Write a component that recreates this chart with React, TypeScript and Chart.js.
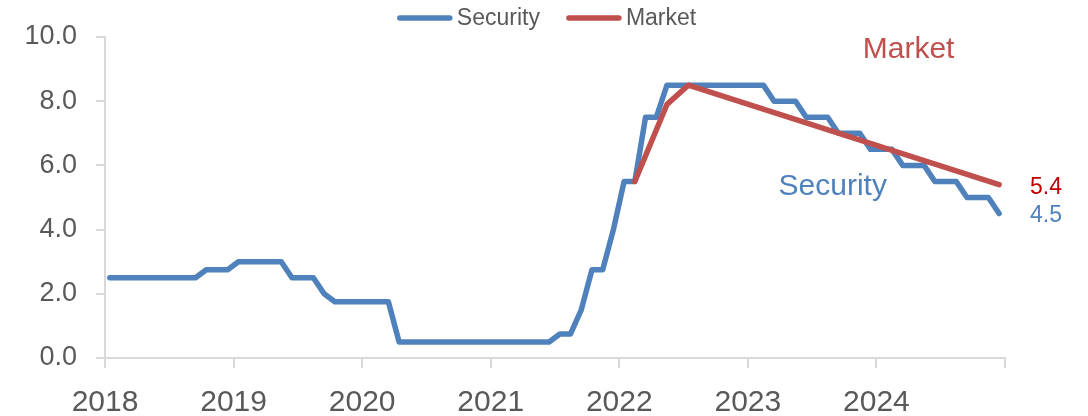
import { useEffect, useRef } from 'react';
import { Chart, registerables } from 'chart.js';

Chart.register(...registerables);

// Monthly policy-rate path, January 2018 through December 2024 (%)
const securityStart = '2018-01';
const securityRates = [
  // 2018
  2.5, 2.5, 2.5, 2.5, 2.5, 2.5, 2.5, 2.5, 2.5, 2.75, 2.75, 2.75,
  // 2019
  3.0, 3.0, 3.0, 3.0, 3.0, 2.5, 2.5, 2.5, 2.0, 1.75, 1.75, 1.75,
  // 2020
  1.75, 1.75, 1.75, 0.5, 0.5, 0.5, 0.5, 0.5, 0.5, 0.5, 0.5, 0.5,
  // 2021
  0.5, 0.5, 0.5, 0.5, 0.5, 0.5, 0.75, 0.75, 1.5, 2.75, 2.75, 4.0,
  // 2022
  5.5, 5.5, 7.5, 7.5, 8.5, 8.5, 8.5, 8.5, 8.5, 8.5, 8.5, 8.5,
  // 2023
  8.5, 8.5, 8.0, 8.0, 8.0, 7.5, 7.5, 7.5, 7.0, 7.0, 7.0, 6.5,
  // 2024
  6.5, 6.5, 6.0, 6.0, 6.0, 5.5, 5.5, 5.5, 5.0, 5.0, 5.0, 4.5,
];

// Market-implied path
const marketDates = ['2022-02', '2022-05', '2022-07', '2024-12'];
const marketRates = [5.5, 7.9, 8.5, 5.4];

// Axis ticks
const yearTicks = [2018, 2019, 2020, 2021, 2022, 2023, 2024, 2025];
const yearLabels = ['2018', '2019', '2020', '2021', '2022', '2023', '2024', ''];
const rateTicks = [0, 2, 4, 6, 8, 10];

// In-chart series names, placed in data coordinates (decimal year, rate)
const seriesNames = ['Security', 'Market'];
const namePositions = [
  { x: 2023.66, y: 5.37 },
  { x: 2024.25, y: 9.63 },
];

const BLUE = '#4F81BD';
const RED = '#C0504D';
const DARK_RED = '#C00000';
const TEXT = '#595959';
const AXIS = '#D9D9D9';
const FONT = '"Liberation Sans", Arial, sans-serif';

// Observations are dated mid-month
function toYear(ym: string, offsetMonths = 0): number {
  const [y, m] = ym.split('-').map(Number);
  return y + (m - 1 + offsetMonths + 0.45) / 12;
}

const securityPoints = securityRates.map((v, i) => ({ x: toYear(securityStart, i), y: v }));
const marketPoints = marketRates.map((v, i) => ({ x: toYear(marketDates[i]), y: v }));

const legendPlugin = {
  id: 'lineLegend',
  afterDraw(chart: any) {
    const ctx = chart.ctx as CanvasRenderingContext2D;
    const items = [
      { text: seriesNames[0], color: BLUE },
      { text: seriesNames[1], color: RED },
    ];
    const lineLen = 54;
    const gap = 5;
    const itemGap = 27;
    const y = 18;
    ctx.save();
    ctx.font = `23px ${FONT}`;
    const widths = items.map((it) => ctx.measureText(it.text).width);
    const total = items.reduce((s, _, i) => s + lineLen + gap + widths[i], 0) + itemGap;
    let x = 547 - total / 2;
    items.forEach((it, i) => {
      ctx.strokeStyle = it.color;
      ctx.lineWidth = 5.5;
      ctx.lineCap = 'round';
      ctx.beginPath();
      ctx.moveTo(x + 2, y);
      ctx.lineTo(x + lineLen - 2, y);
      ctx.stroke();
      x += lineLen + gap;
      ctx.fillStyle = TEXT;
      ctx.textAlign = 'left';
      ctx.textBaseline = 'middle';
      ctx.fillText(it.text, x, y + 1);
      x += widths[i] + itemGap;
    });
    ctx.restore();
  },
};

const labelPlugin = {
  id: 'seriesLabels',
  afterDatasetsDraw(chart: any) {
    const ctx = chart.ctx as CanvasRenderingContext2D;
    const xs = chart.scales.x;
    const ys = chart.scales.y;
    ctx.save();
    ctx.textAlign = 'center';
    ctx.textBaseline = 'middle';
    ctx.font = `30px ${FONT}`;
    const nameColors = [BLUE, RED];
    namePositions.forEach((p, i) => {
      ctx.fillStyle = nameColors[i];
      ctx.fillText(seriesNames[i], xs.getPixelForValue(p.x), ys.getPixelForValue(p.y) + 1);
    });

    // End-of-path values to the right of the plot
    const lastMarket = marketRates[marketRates.length - 1];
    const lastSecurity = securityRates[securityRates.length - 1];
    ctx.font = `23px ${FONT}`;
    const xr = chart.chartArea.right + 41;
    ctx.fillStyle = DARK_RED;
    ctx.fillText(lastMarket.toFixed(1), xr, ys.getPixelForValue(lastMarket) + 3);
    ctx.fillStyle = BLUE;
    ctx.fillText(lastSecurity.toFixed(1), xr, ys.getPixelForValue(lastSecurity) + 2);
    ctx.restore();
  },
};

export default function App() {
  const canvasRef = useRef<HTMLCanvasElement | null>(null);

  useEffect(() => {
    const canvas = canvasRef.current;
    if (!canvas) return;
    const chart = new Chart(canvas, {
      type: 'line',
      data: {
        datasets: [
          {
            label: seriesNames[0],
            data: securityPoints,
            borderColor: BLUE,
            backgroundColor: BLUE,
            borderWidth: 5.5,
            pointRadius: 0,
            tension: 0,
            borderJoinStyle: 'round',
            borderCapStyle: 'round',
            order: 1,
          },
          {
            label: seriesNames[1],
            data: marketPoints,
            borderColor: RED,
            backgroundColor: RED,
            borderWidth: 5.5,
            pointRadius: 0,
            tension: 0,
            borderJoinStyle: 'round',
            borderCapStyle: 'round',
            order: 0,
          },
        ],
      },
      options: {
        animation: false,
        responsive: false,
        maintainAspectRatio: false,
        layout: { padding: { top: 37, right: 83, left: 0, bottom: 0 } },
        plugins: {
          legend: { display: false },
          tooltip: { enabled: false },
        },
        scales: {
          x: {
            type: 'linear',
            min: 2018,
            max: 2025,
            afterBuildTicks: (scale: any) => {
              scale.ticks = yearTicks.map((v) => ({ value: v }));
            },
            afterFit: (scale: any) => {
              scale.height = 58;
            },
            ticks: {
              autoSkip: false,
              maxRotation: 0,
              padding: 17,
              color: TEXT,
              font: { family: FONT, size: 30 },
              callback: (v: any) => yearLabels[yearTicks.indexOf(Number(v))] ?? '',
            },
            grid: {
              drawOnChartArea: false,
              drawTicks: true,
              tickLength: 10,
              color: AXIS,
              lineWidth: 2,
            },
            border: { color: AXIS, width: 2 },
          },
          y: {
            min: 0,
            max: 10,
            afterBuildTicks: (scale: any) => {
              scale.ticks = rateTicks.map((v) => ({ value: v }));
            },
            afterFit: (scale: any) => {
              scale.width = 105;
            },
            ticks: {
              padding: 19,
              color: TEXT,
              font: { family: FONT, size: 27 },
              callback: (v: any) => Number(v).toFixed(1),
            },
            grid: {
              drawOnChartArea: false,
              drawTicks: true,
              tickLength: 9,
              color: AXIS,
              lineWidth: 2,
            },
            border: { color: AXIS, width: 2 },
          },
        },
      },
      plugins: [legendPlugin, labelPlugin],
    } as any);
    return () => chart.destroy();
  }, []);

  return (
    <div style={{ position: 'fixed', left: 0, top: 0, width: 1088, height: 416, background: '#fff' }}>
      <canvas ref={canvasRef} width={1088} height={416} style={{ display: 'block' }} />
    </div>
  );
}
